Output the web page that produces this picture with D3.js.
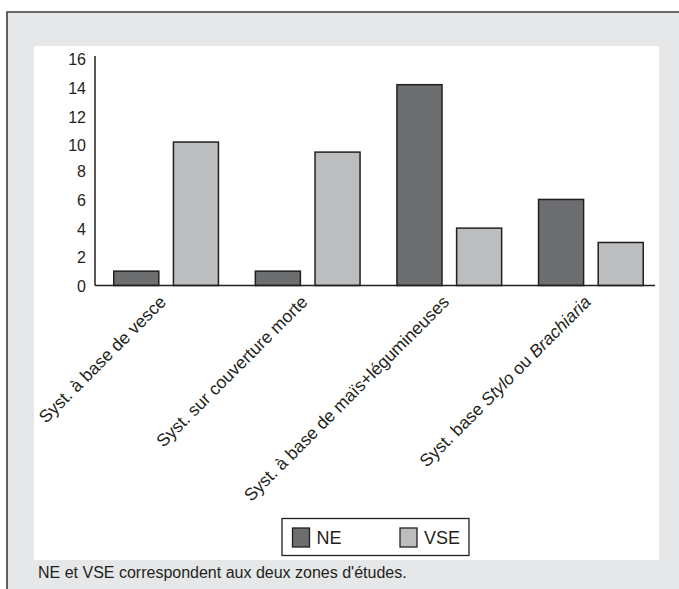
<!DOCTYPE html>
<html>
<head>
<meta charset="utf-8">
<script src="https://cdn.jsdelivr.net/npm/d3@7"></script>
<style>
  body { margin: 0; background: #fff; }
  svg text { font-family: "Liberation Sans", Arial, sans-serif; fill: #231f20; }
</style>
</head>
<body>
<svg id="chart" width="679" height="589"></svg>
<script>
// data
let categories = [
    "Syst. à base de vesce",
    "Syst. sur couverture morte",
    "Syst. à base de maïs+légumineuses",
    "Syst. base Stylo ou Brachiaria"
]
// label pieces, italic flag per piece
let labelParts = [
    [["Syst. à base de vesce", false]],
    [["Syst. sur couverture morte", false]],
    [["Syst. à base de maïs+légumineuses", false]],
    [["Syst. base ", false], ["Stylo", true], [" ou ", false], ["Brachiaria", true]]
]
let seriesNames = ["NE", "VSE"]
let neValues = [1, 1, 14, 6]
let vseValues = [10, 9.3, 4, 3]
let yTicks = [0, 2, 4, 6, 8, 10, 12, 14, 16]
let footnote = "NE et VSE correspondent aux deux zones d'études."

let colors = { NE: "#6d6e70", VSE: "#bcbdbf" }
let ink = "#231f20"

let svg = d3.select("#chart")

// outer frame
svg.append("rect")
    .attr("x", 7).attr("y", 12)
    .attr("width", 672).attr("height", 577)
    .attr("fill", "#e6e7e8")
svg.append("path")
    .attr("d", "M7,589 V12 H679")
    .attr("fill", "none")
    .attr("stroke", "#3c3c3c")
    .attr("stroke-width", 1.6)

// white panel
svg.append("rect")
    .attr("x", 34).attr("y", 46)
    .attr("width", 625).attr("height", 514)
    .attr("fill", "#fff")

let rows = categories.map((c, i) => ({ cat: c, NE: neValues[i], VSE: vseValues[i] }))

let x0 = d3.scaleBand()
    .domain(categories)
    .range([113, 644])
    .paddingInner(0.25)
    .paddingOuter(0)

let x1 = d3.scaleBand()
    .domain(seriesNames)
    .range([0, x0.bandwidth()])
    .paddingInner(0.22)

let y = d3.scaleLinear()
    .domain([0, 16])
    .range([285.5, 56])

// bars
let groups = svg.append("g")
    .selectAll("g")
    .data(rows)
    .enter().append("g")
    .attr("transform", d => `translate(${x0(d.cat)},0)`)

groups.selectAll("rect")
    .data(d => seriesNames.map(k => ({ key: k, value: d[k] })))
    .enter().append("rect")
    .attr("x", d => x1(d.key) + 0.75)
    .attr("width", x1.bandwidth() - 1.5)
    .attr("y", d => y(d.value))
    .attr("height", d => y(0) - y(d.value))
    .attr("fill", d => colors[d.key])
    .attr("stroke", ink)
    .attr("stroke-width", 1.5)

// y axis: line and labels only, no tick marks
let yAxis = d3.axisLeft(y)
    .tickValues(yTicks)
    .tickSize(0)
    .tickPadding(9)

let gy = svg.append("g")
    .attr("transform", "translate(95,0)")
    .call(yAxis)
gy.select(".domain").remove()
gy.selectAll("text")
    .style("font-family", '"Liberation Sans", Arial, sans-serif')
    .style("font-size", "16px")
    .attr("fill", ink)
    .attr("dy", d => d >= 10 ? "0.55em" : "0.38em")

svg.append("line")
    .attr("x1", 95).attr("x2", 95)
    .attr("y1", y(16)).attr("y2", y(0))
    .attr("stroke", ink).attr("stroke-width", 1.5)

// baseline
svg.append("line")
    .attr("x1", 95).attr("x2", 655)
    .attr("y1", y(0)).attr("y2", y(0))
    .attr("stroke", ink).attr("stroke-width", 1.5)

// rotated category labels
let labels = svg.append("g")
    .selectAll("text")
    .data(categories)
    .enter().append("text")
    .attr("transform", d => `translate(${x0(d) + x0.bandwidth() / 2 + 1},303) rotate(-45)`)
    .attr("text-anchor", "end")
    .style("font-size", "17.5px")

labels.each(function (d, i) {
    let t = d3.select(this)
    labelParts[i].forEach(p => {
        t.append("tspan")
            .text(p[0])
            .style("font-style", p[1] ? "italic" : "normal")
    })
})

// legend
svg.append("rect")
    .attr("x", 282).attr("y", 518.5)
    .attr("width", 187).attr("height", 37)
    .attr("fill", "#fff")
    .attr("stroke", ink)
    .attr("stroke-width", 1.3)

let legendX = d3.scalePoint()
    .domain(seriesNames)
    .range([292.5, 400])

let items = svg.append("g")
    .selectAll("g")
    .data(seriesNames)
    .enter().append("g")
    .attr("transform", d => `translate(${legendX(d)},528)`)

items.append("rect")
    .attr("width", 17).attr("height", 19)
    .attr("fill", d => colors[d])
    .attr("stroke", ink)
    .attr("stroke-width", 1.3)

items.append("text")
    .attr("x", 24).attr("y", 15.5)
    .style("font-size", "18px")
    .text(d => d)

// footnote
svg.append("text")
    .attr("x", 38).attr("y", 578)
    .style("font-size", "16px")
    .text(footnote)
</script>
</body>
</html>
